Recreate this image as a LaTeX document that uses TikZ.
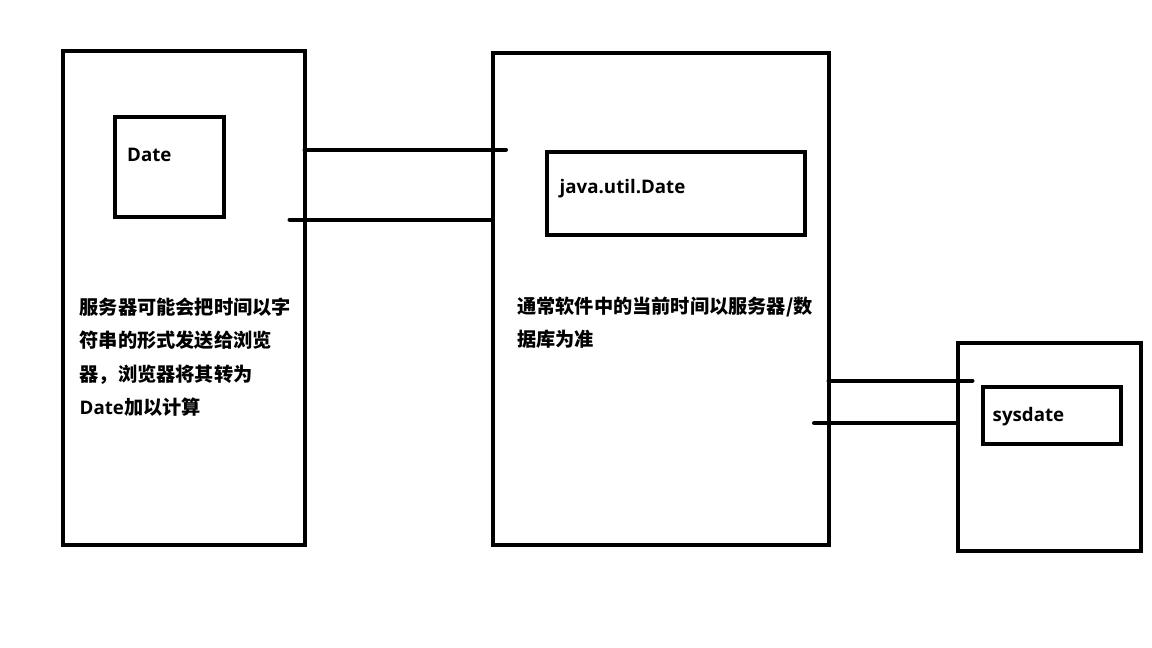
\documentclass[tikz,border=0pt]{standalone}
\usepackage{fontspec}
\setmainfont{Open Sans}
\newfontfamily\cjk{Noto Sans CJK SC}[Scale=1.027]
\begin{document}
\begin{tikzpicture}[x=1pt,y=-1pt,
  box/.style={draw=black, line width=4pt, inner sep=0pt, outer sep=0pt},
  wire/.style={draw=black, line width=4pt, line cap=round},
  lbl/.style={inner sep=0pt, font=\fontsize{18.7}{33.3}\selectfont\bfseries},
  para/.style={lbl, anchor=north west, align=left}]
\useasboundingbox[fill=white] (0,0) rectangle (1152,648);
% outer boxes
\node[box, minimum width=242pt, minimum height=494.5pt] (client) at (183.5,297.75) {};
\node[box, minimum width=336pt, minimum height=492.5pt] (server) at (660.5,298.75) {};
\node[box, minimum width=182.5pt, minimum height=208pt] (db) at (1049.25,446.5) {};
% inner boxes
\node[box, minimum width=109.6pt, minimum height=100.5pt] (date) at (169.5,166.75) {};
\node[box, minimum width=258pt, minimum height=83.3pt] (jdate) at (675.5,193.35) {};
\node[box, minimum width=138pt, minimum height=57pt] (sysdate) at (1051.5,415) {};
% labels
\node[lbl, anchor=base west] (datelbl) at (127,161.5) {Date};
\node[lbl, anchor=base west] (jdatelbl) at (559.5,193) {java.util.Date};
\node[lbl, anchor=base west] (syslbl) at (992.5,421) {sysdate};
\node[para] (clienttxt) at (79.5,297.8) {\cjk 服务器可能会把时间以字\\\cjk 符串的形式发送给浏览\\\cjk 器，浏览器将其转为\\Date{\cjk 加以计算}};
\node[para] (servertxt) at (517,296.5) {\cjk 通常软件中的当前时间以服务器/数\\\cjk 据库为准};
% connectors
\coordinate (w1end) at (506,149.5);
\coordinate (w2start) at (289.5,219.5);
\coordinate (w3end) at (972.5,380.5);
\coordinate (w4start) at (814,423);
\draw[wire] (client.east |- w1end) -- (w1end);
\draw[wire] (w2start) -- (server.west |- w2start);
\draw[wire] (server.east |- w3end) -- (w3end);
\draw[wire] (w4start) -- (db.west |- w4start);
\end{tikzpicture}
\end{document}
